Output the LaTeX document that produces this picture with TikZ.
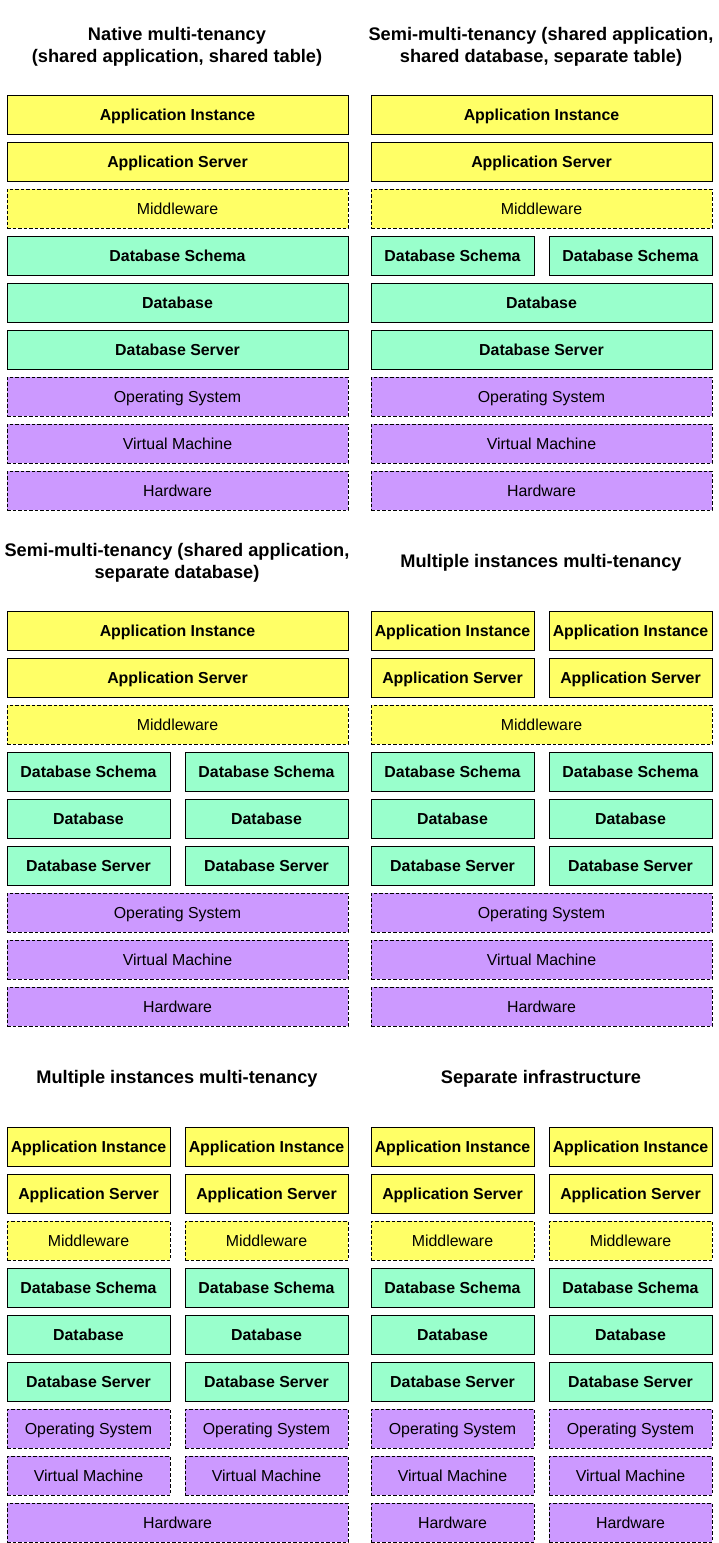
\documentclass[tikz,border=0pt]{standalone}
\usepackage{fontspec}
\setmainfont{Liberation Sans}
\definecolor{appfill}{HTML}{FFFF66}
\definecolor{dbfill}{HTML}{99FFCC}
\definecolor{osfill}{HTML}{CC99FF}
\tikzset{
  layer/.style={draw=black, line width=1pt, anchor=north west, minimum height=39pt,
    inner sep=0pt, text height=11.4pt, text depth=0pt, font=\fontsize{15.9}{18}\selectfont},
  solidlayer/.style={layer, font=\fontsize{15.9}{18}\selectfont\bfseries},
  dashedlayer/.style={layer, dash pattern=on 3.5pt off 2pt},
  applayer/.style={solidlayer, fill=appfill},
  midlayer/.style={dashedlayer, fill=appfill},
  dblayer/.style={solidlayer, fill=dbfill},
  oslayer/.style={dashedlayer, fill=osfill},
  paneltitle/.style={align=center, inner sep=0pt, font=\fontsize{18.2}{22}\selectfont\bfseries},
}
% full-width and half-width layer boxes: name, style, left, top, text
\newcommand\fullbox[5]{\node[#2, minimum width=341pt] (#1) at (#3,#4) {#5};}
\newcommand\halfbox[5]{\node[#2, minimum width=163pt] (#1) at (#3,#4) {#5};}
\begin{document}
\begin{tikzpicture}[x=1pt,y=-1pt]
\useasboundingbox (0,0) rectangle (718,1543);

% ---------- Panel 1: native multi-tenancy ----------
\node[paneltitle] (t1) at (177,47) {Native multi-tenancy\\(shared application, shared table)};
\fullbox{a1}{applayer}{6.5}{94.5}{Application Instance}
\fullbox{a2}{applayer}{6.5}{141.5}{Application Server}
\fullbox{a3}{midlayer}{6.5}{188.5}{Middleware}
\fullbox{a4}{dblayer}{6.5}{235.5}{Database Schema}
\fullbox{a5}{dblayer}{6.5}{282.5}{Database}
\fullbox{a6}{dblayer}{6.5}{329.5}{Database Server}
\fullbox{a7}{oslayer}{6.5}{376.5}{Operating System}
\fullbox{a8}{oslayer}{6.5}{423.5}{Virtual Machine}
\fullbox{a9}{oslayer}{6.5}{470.5}{Hardware}

% ---------- Panel 2: separate table ----------
\node[paneltitle] (t2) at (541,47) {Semi-multi-tenancy (shared application,\\shared database, separate table)};
\fullbox{b1}{applayer}{370.5}{94.5}{Application Instance}
\fullbox{b2}{applayer}{370.5}{141.5}{Application Server}
\fullbox{b3}{midlayer}{370.5}{188.5}{Middleware}
\halfbox{b4l}{dblayer}{370.5}{235.5}{Database Schema}
\halfbox{b4r}{dblayer}{548.5}{235.5}{Database Schema}
\fullbox{b5}{dblayer}{370.5}{282.5}{Database}
\fullbox{b6}{dblayer}{370.5}{329.5}{Database Server}
\fullbox{b7}{oslayer}{370.5}{376.5}{Operating System}
\fullbox{b8}{oslayer}{370.5}{423.5}{Virtual Machine}
\fullbox{b9}{oslayer}{370.5}{470.5}{Hardware}

% ---------- Panel 3: separate database ----------
\node[paneltitle] (t3) at (177,563) {Semi-multi-tenancy (shared application,\\separate database)};
\fullbox{c1}{applayer}{6.5}{610.5}{Application Instance}
\fullbox{c2}{applayer}{6.5}{657.5}{Application Server}
\fullbox{c3}{midlayer}{6.5}{704.5}{Middleware}
\halfbox{c4l}{dblayer}{6.5}{751.5}{Database Schema}
\halfbox{c4r}{dblayer}{184.5}{751.5}{Database Schema}
\halfbox{c5l}{dblayer}{6.5}{798.5}{Database}
\halfbox{c5r}{dblayer}{184.5}{798.5}{Database}
\halfbox{c6l}{dblayer}{6.5}{845.5}{Database Server}
\halfbox{c6r}{dblayer}{184.5}{845.5}{Database Server}
\fullbox{c7}{oslayer}{6.5}{892.5}{Operating System}
\fullbox{c8}{oslayer}{6.5}{939.5}{Virtual Machine}
\fullbox{c9}{oslayer}{6.5}{986.5}{Hardware}

% ---------- Panel 4: multiple instances, shared middleware ----------
\node[paneltitle] (t4) at (541,563) {Multiple instances multi-tenancy};
\halfbox{d1l}{applayer}{370.5}{610.5}{Application Instance}
\halfbox{d1r}{applayer}{548.5}{610.5}{Application Instance}
\halfbox{d2l}{applayer}{370.5}{657.5}{Application Server}
\halfbox{d2r}{applayer}{548.5}{657.5}{Application Server}
\fullbox{d3}{midlayer}{370.5}{704.5}{Middleware}
\halfbox{d4l}{dblayer}{370.5}{751.5}{Database Schema}
\halfbox{d4r}{dblayer}{548.5}{751.5}{Database Schema}
\halfbox{d5l}{dblayer}{370.5}{798.5}{Database}
\halfbox{d5r}{dblayer}{548.5}{798.5}{Database}
\halfbox{d6l}{dblayer}{370.5}{845.5}{Database Server}
\halfbox{d6r}{dblayer}{548.5}{845.5}{Database Server}
\fullbox{d7}{oslayer}{370.5}{892.5}{Operating System}
\fullbox{d8}{oslayer}{370.5}{939.5}{Virtual Machine}
\fullbox{d9}{oslayer}{370.5}{986.5}{Hardware}

% ---------- Panel 5: multiple instances, shared hardware ----------
\node[paneltitle] (t5) at (177,1079) {Multiple instances multi-tenancy};
\halfbox{e1l}{applayer}{6.5}{1126.5}{Application Instance}
\halfbox{e1r}{applayer}{184.5}{1126.5}{Application Instance}
\halfbox{e2l}{applayer}{6.5}{1173.5}{Application Server}
\halfbox{e2r}{applayer}{184.5}{1173.5}{Application Server}
\halfbox{e3l}{midlayer}{6.5}{1220.5}{Middleware}
\halfbox{e3r}{midlayer}{184.5}{1220.5}{Middleware}
\halfbox{e4l}{dblayer}{6.5}{1267.5}{Database Schema}
\halfbox{e4r}{dblayer}{184.5}{1267.5}{Database Schema}
\halfbox{e5l}{dblayer}{6.5}{1314.5}{Database}
\halfbox{e5r}{dblayer}{184.5}{1314.5}{Database}
\halfbox{e6l}{dblayer}{6.5}{1361.5}{Database Server}
\halfbox{e6r}{dblayer}{184.5}{1361.5}{Database Server}
\halfbox{e7l}{oslayer}{6.5}{1408.5}{Operating System}
\halfbox{e7r}{oslayer}{184.5}{1408.5}{Operating System}
\halfbox{e8l}{oslayer}{6.5}{1455.5}{Virtual Machine}
\halfbox{e8r}{oslayer}{184.5}{1455.5}{Virtual Machine}
\fullbox{e9}{oslayer}{6.5}{1502.5}{Hardware}

% ---------- Panel 6: separate infrastructure ----------
\node[paneltitle] (t6) at (541,1079) {Separate infrastructure};
\halfbox{f1l}{applayer}{370.5}{1126.5}{Application Instance}
\halfbox{f1r}{applayer}{548.5}{1126.5}{Application Instance}
\halfbox{f2l}{applayer}{370.5}{1173.5}{Application Server}
\halfbox{f2r}{applayer}{548.5}{1173.5}{Application Server}
\halfbox{f3l}{midlayer}{370.5}{1220.5}{Middleware}
\halfbox{f3r}{midlayer}{548.5}{1220.5}{Middleware}
\halfbox{f4l}{dblayer}{370.5}{1267.5}{Database Schema}
\halfbox{f4r}{dblayer}{548.5}{1267.5}{Database Schema}
\halfbox{f5l}{dblayer}{370.5}{1314.5}{Database}
\halfbox{f5r}{dblayer}{548.5}{1314.5}{Database}
\halfbox{f6l}{dblayer}{370.5}{1361.5}{Database Server}
\halfbox{f6r}{dblayer}{548.5}{1361.5}{Database Server}
\halfbox{f7l}{oslayer}{370.5}{1408.5}{Operating System}
\halfbox{f7r}{oslayer}{548.5}{1408.5}{Operating System}
\halfbox{f8l}{oslayer}{370.5}{1455.5}{Virtual Machine}
\halfbox{f8r}{oslayer}{548.5}{1455.5}{Virtual Machine}
\halfbox{f9l}{oslayer}{370.5}{1502.5}{Hardware}
\halfbox{f9r}{oslayer}{548.5}{1502.5}{Hardware}
\end{tikzpicture}
\end{document}
